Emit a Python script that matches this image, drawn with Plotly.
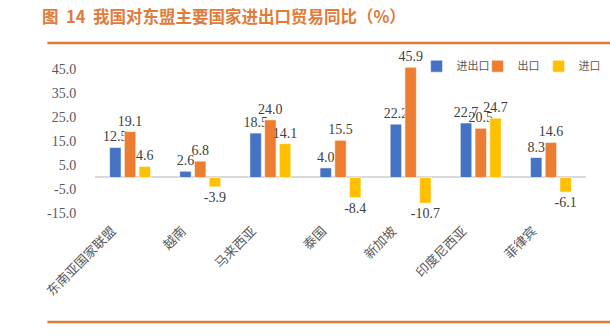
import plotly.graph_objects as go

categories = ["东南亚国家联盟", "越南", "马来西亚", "泰国", "新加坡", "印度尼西亚", "菲律宾"]
total = [12.5, 2.6, 18.5, 4.0, 22.2, 22.7, 8.3]
exports = [19.1, 6.8, 24.0, 15.5, 45.9, 20.5, 14.6]
imports = [4.6, -3.9, 14.1, -8.4, -10.7, 24.7, -6.1]
series_names = ["进出口", "出口", "进口"]
colors = ["#4472C4", "#ED7D31", "#FFC000"]
ytick_vals = [-15, -5, 5, 15, 25, 35, 45]

fig = go.Figure()
for name, vals, c in zip(series_names, [total, exports, imports], colors):
    fig.add_trace(go.Bar(
        x=categories, y=vals, name=name,
        marker=dict(color=c, line=dict(color="rgba(255,255,255,0.6)", width=1)),
        text=[f"{v:.1f}" for v in vals], textposition="outside",
        constraintext="none",
        textfont=dict(family="Liberation Serif", size=14, color="#404040"),
        cliponaxis=False,
    ))

fig.update_layout(
    width=610, height=336,
    margin=dict(l=95, r=24, t=55, b=116, autoexpand=False),
    paper_bgcolor="white", plot_bgcolor="white",
    barmode="group", bargap=0.37, bargroupgap=0.22,
    font=dict(family="Liberation Serif", color="#595959"),
    showlegend=True,
    legend=dict(orientation="h", x=0.655, xanchor="left", y=1.02, yanchor="top",
                font=dict(family="Noto Sans CJK SC", size=11, color="#595959"),
                itemwidth=30, entrywidth=16, entrywidthmode="pixels",
                traceorder="normal", bgcolor="rgba(0,0,0,0)"),
    xaxis=dict(showline=False, showgrid=False, tickangle=-45, ticks="",
               tickfont=dict(family="Noto Sans CJK SC", size=13, color="#595959"),
               ticklabelshift=-18, automargin=False),
    yaxis=dict(range=[-17.7, 51], tickvals=ytick_vals, ticktext=[f"{v:.1f}" for v in ytick_vals],
               showgrid=False, showline=False, zeroline=True, zerolinecolor="#D9D9D9",
               zerolinewidth=1.5, ticks="outside", ticklen=15, tickcolor="rgba(0,0,0,0)",
               tickfont=dict(family="Liberation Serif", size=14, color="#595959"), automargin=False),
    shapes=[
        dict(type="line", xref="paper", yref="paper", x0=-0.097, x1=1.05, y0=(336-43-116)/165, y1=(336-43-116)/165,
             line=dict(color="#E07B39", width=2.5)),
        dict(type="line", xref="paper", yref="paper", x0=-0.097, x1=1.05, y0=(336-322-116)/165, y1=(336-322-116)/165,
             line=dict(color="#E07B39", width=2.5)),
    ],
    annotations=[
        dict(text="<b>图  14  我国对东盟主要国家进出口贸易同比（%）</b>", xref="paper", yref="paper",
             x=(40-95)/491, y=(336-16-116)/165, xanchor="left", yanchor="middle", showarrow=False,
             font=dict(family="Noto Sans CJK SC", size=16.5, color="#E07B39")),
    ],
)

fig.write_html("out.html")
